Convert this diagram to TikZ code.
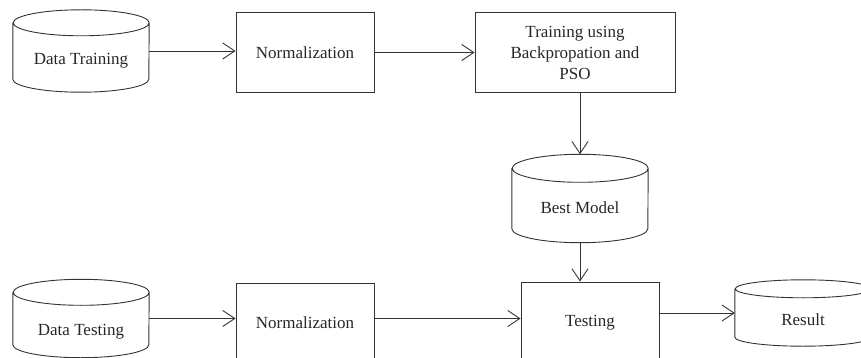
\documentclass[tikz,border=0pt]{standalone}
\usepackage{fontspec}
\setmainfont{Liberation Serif}
\usetikzlibrary{arrows.meta, positioning, calc}

\begin{document}
\begin{tikzpicture}[x=1pt, y=1pt,
    every node/.style={font=\fontsize{17}{21}\selectfont, text=black!85},
    box/.style={draw=black!80, line width=0.9pt, minimum height=80pt, inner sep=0pt, align=center},
    store/.style={minimum width=136pt, inner sep=0pt, text height=#1, text depth=0pt},
    store/.default=28pt,
    flow/.style={draw=black!80, line width=0.9pt, -{Straight Barb[length=12pt, width=16pt, line width=0.9pt]}}
]
    \useasboundingbox (0,0) rectangle (861,-358);
    \clip (0,0) rectangle (861,-358);

    % Training row
    \node[store, minimum height=82pt] (dtrain) at (81,-51) {Data Training};
    \node[box, minimum width=138pt] (norm1) at (305,-52.5) {Normalization};
    \node[box, minimum width=200pt] (train) at (575,-52.5) {Training using\\Backpropation and\\PSO};

    % Model
    \node[store=29pt, minimum height=88pt] (best) at (580,-198.5) {Best Model};

    % Testing row
    \node[store=33pt, minimum height=78pt] (dtest) at (81,-318.5) {Data Testing};
    \node[box, minimum width=138pt] (norm2) at (305,-323) {Normalization};
    \node[box, minimum width=138pt, minimum height=82pt] (test) at (590,-323) {Testing};
    \node[store=24pt, minimum height=66pt] (res) at (803,-313) {Result};

    % Cylinder outlines
    \foreach \c/\r in {dtrain/13, best/14, dtest/13, res/9}
        \draw[draw=black!80, line width=0.9pt] ([yshift=-\r]\c.north west) -- ([yshift=\r]\c.south west)
            arc[start angle=180, end angle=360, x radius=68, y radius=\r]
            -- ([yshift=-\r]\c.north east)
            arc[start angle=0, end angle=360, x radius=68, y radius=\r];

    % Arrows
    \draw[flow] (dtrain.east) -- (dtrain.east -| norm1.west);
    \draw[flow] (norm1.east) -- (train.west);
    \draw[flow] (train.south -| best) -- (best.north);
    \draw[flow] (best.south) -- (best.south |- test.north);
    \draw[flow] (dtest.east) -- (dtest.east -| norm2.west);
    \draw[flow] (norm2.east |- dtest) -- (test.west |- dtest);
    \draw[flow] (test.east |- res) -- (res.west);
\end{tikzpicture}
\end{document}
